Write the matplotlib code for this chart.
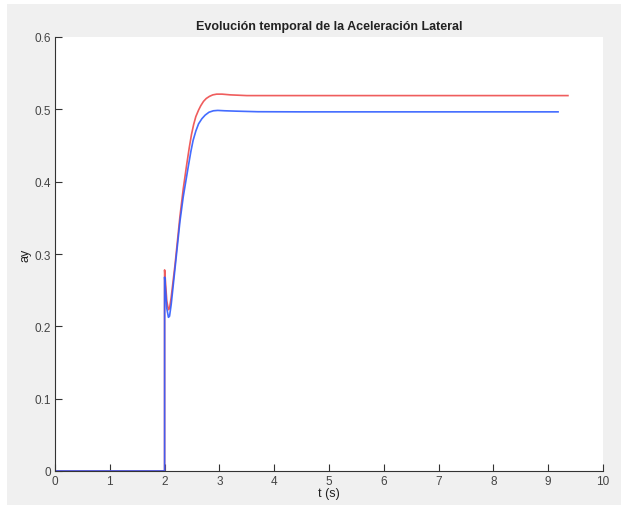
import matplotlib
matplotlib.use("Agg")
import matplotlib.pyplot as plt
from matplotlib.patches import Rectangle

# Data
t_red = [0, 2.0, 2.0, 2.01, 2.04, 2.07, 2.09, 2.12, 2.19, 2.28, 2.34, 2.40, 2.45,
         2.49, 2.53, 2.57, 2.62, 2.66, 2.71, 2.76, 2.82, 2.88, 2.95, 3.05, 3.2,
         3.5, 4.0, 5.0, 9.36]
ay_red = [0, 0, 0.278, 0.268, 0.235, 0.223, 0.225, 0.24, 0.285, 0.352, 0.39, 0.422,
          0.447, 0.465, 0.479, 0.490, 0.499, 0.505, 0.511, 0.515, 0.518, 0.520,
          0.521, 0.521, 0.520, 0.519, 0.519, 0.519, 0.519]

t_blue = [0, 2.0, 2.0, 2.01, 2.04, 2.07, 2.09, 2.12, 2.19, 2.28, 2.34, 2.43, 2.48,
          2.52, 2.57, 2.62, 2.68, 2.74, 2.81, 2.89, 2.97, 3.1, 3.3, 3.7, 4.5, 9.18]
ay_blue = [0, 0, 0.268, 0.258, 0.225, 0.2125, 0.214, 0.23, 0.28, 0.345, 0.379, 0.42,
           0.442, 0.457, 0.470, 0.480, 0.487, 0.492, 0.496, 0.498, 0.4985, 0.498,
           0.4975, 0.4967, 0.4965, 0.4965]

x_ticks = [0, 1, 2, 3, 4, 5, 6, 7, 8, 9, 10]
y_ticks = [0, 0.1, 0.2, 0.3, 0.4, 0.5, 0.6]
y_labels = ["0", "0.1", "0.2", "0.3", "0.4", "0.5", "0.6"]

plt.rcParams['font.family'] = ['Liberation Sans', 'DejaVu Sans']

fig = plt.figure(figsize=(6.21, 5.06), dpi=100, facecolor='white')
fig.patches.append(Rectangle((7/621, 0), 1 - 7/621, 1 - 5/506, transform=fig.transFigure,
                             facecolor='#f0f0f0', edgecolor='none', zorder=-10))
ax = fig.add_axes([55/621, 1 - 472/506, 548/621, 434/506])
ax.set_facecolor('white')

ax.plot(t_red, ay_red, color='#ee4b4b', lw=1.2, alpha=0.9)
ax.plot(t_blue, ay_blue, color='#2f5cff', lw=1.2, alpha=0.9)

ax.set_xlim(0, 10)
ax.set_ylim(0, 0.6)
ax.set_xticks(x_ticks)
ax.set_yticks(y_ticks)
ax.set_yticklabels(y_labels)
for s in ['top', 'right']:
    ax.spines[s].set_visible(False)
for s in ['left', 'bottom']:
    ax.spines[s].set_color('#333333')
    ax.spines[s].set_linewidth(0.8)
ax.tick_params(direction='in', length=5, width=0.8, colors='#333333',
               labelcolor='#444444', labelsize=8.5, pad=3)

ax.set_xlabel('t (s)', fontsize=9, color='#222222', labelpad=0)
ax.set_ylabel('ay', fontsize=9, color='#222222', labelpad=2)
ax.set_title('Evolución temporal de la Aceleración Lateral', fontsize=9,
             fontweight='bold', color='#222222', pad=6)

fig.savefig('out.png', dpi=100, facecolor=fig.get_facecolor())
